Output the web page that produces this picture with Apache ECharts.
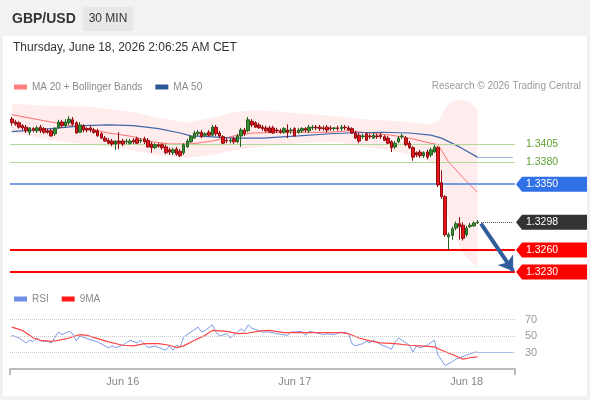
<!DOCTYPE html>
<html>
<head>
<meta charset="utf-8">
<script src="https://cdn.jsdelivr.net/npm/echarts@6/dist/echarts.min.js"></script>
<style>
html,body{margin:0;padding:0;background:#ffffff;}
#c{width:590px;height:400px;}
</style>
</head>
<body>
<div id="c"></div>
<script>
// ---------- data ----------
const nBars = 141; // 131 candles + empty room on the right
const tickIdx = [31, 79, 127];
const tickLabels = ['Jun 16', 'Jun 17', 'Jun 18'];

const opens = [1.3439,1.3435,1.3434,1.3430,1.3428,1.3421,1.3426,1.3423,1.3428,1.3426,
1.3423,1.3423,1.3419,1.3427,1.3435,1.3430,1.3434,1.3438,1.3434,1.3421,
1.3430,1.3426,1.3427,1.3424,1.3423,1.3419,1.3413,1.3410,1.3409,1.3405,
1.3409,1.3409,1.3408,1.3406,1.3410,1.3412,1.3409,1.3412,1.3410,1.3405,
1.3400,1.3404,1.3404,1.3401,1.3397,1.3393,1.3398,1.3395,1.3393,1.3401,
1.3408,1.3413,1.3419,1.3421,1.3417,1.3421,1.3417,1.3428,1.3420,1.3415,
1.3410,1.3409,1.3412,1.3408,1.3416,1.3424,1.3423,1.3436,1.3434,1.3431,
1.3428,1.3427,1.3427,1.3427,1.3424,1.3423,1.3421,1.3424,1.3423,1.3426,
1.3421,1.3423,1.3426,1.3423,1.3427,1.3428,1.3428,1.3427,1.3428,1.3427,
1.3426,1.3427,1.3426,1.3428,1.3427,1.3426,1.3420,1.3417,1.3415,1.3419,
1.3416,1.3413,1.3416,1.3417,1.3415,1.3413,1.3408,1.3401,1.3408,1.3415,
1.3413,1.3406,1.3400,1.3393,1.3394,1.3389,1.3394,1.3390,1.3394,1.3400,
1.3352,1.3333,1.3278,1.3280,1.3290,1.3296,1.3294,1.3281,1.3292,1.3293,
1.3297];
const closes = [1.3434,1.3432,1.3428,1.3427,1.3423,1.3427,1.3424,1.3427,1.3423,1.3421,
1.3421,1.3416,1.3426,1.3435,1.3430,1.3435,1.3439,1.3432,1.3420,1.3431,
1.3424,1.3424,1.3424,1.3421,1.3416,1.3413,1.3409,1.3406,1.3405,1.3409,
1.3406,1.3405,1.3409,1.3409,1.3408,1.3406,1.3410,1.3408,1.3401,1.3400,
1.3404,1.3402,1.3400,1.3393,1.3394,1.3397,1.3391,1.3389,1.3404,1.3409,
1.3415,1.3420,1.3421,1.3415,1.3419,1.3417,1.3428,1.3419,1.3416,1.3406,
1.3409,1.3410,1.3408,1.3416,1.3424,1.3419,1.3438,1.3431,1.3428,1.3427,
1.3426,1.3423,1.3421,1.3420,1.3423,1.3421,1.3426,1.3421,1.3424,1.3416,
1.3424,1.3426,1.3424,1.3428,1.3428,1.3427,1.3426,1.3426,1.3424,1.3426,
1.3427,1.3426,1.3428,1.3427,1.3424,1.3420,1.3413,1.3409,1.3416,1.3410,
1.3415,1.3417,1.3415,1.3415,1.3410,1.3406,1.3400,1.3406,1.3413,1.3416,
1.3404,1.3400,1.3387,1.3390,1.3389,1.3393,1.3387,1.3397,1.3401,1.3349,
1.3333,1.3281,1.3281,1.3289,1.3296,1.3292,1.3276,1.3290,1.3294,1.3297,
1.3298];
const lows = [1.3430,1.3430,1.3426,1.3424,1.3420,1.3417,1.3421,1.3420,1.3420,1.3419,
1.3419,1.3415,1.3416,1.3426,1.3427,1.3427,1.3431,1.3430,1.3419,1.3420,
1.3421,1.3421,1.3421,1.3419,1.3415,1.3412,1.3408,1.3405,1.3402,1.3397,
1.3398,1.3402,1.3405,1.3404,1.3405,1.3405,1.3406,1.3405,1.3400,1.3393,
1.3398,1.3400,1.3397,1.3391,1.3390,1.3390,1.3389,1.3387,1.3390,1.3400,
1.3406,1.3412,1.3416,1.3413,1.3415,1.3415,1.3416,1.3416,1.3413,1.3405,
1.3406,1.3406,1.3405,1.3406,1.3401,1.3416,1.3421,1.3428,1.3427,1.3426,
1.3423,1.3421,1.3420,1.3419,1.3420,1.3419,1.3419,1.3413,1.3419,1.3415,
1.3419,1.3420,1.3421,1.3420,1.3424,1.3424,1.3423,1.3423,1.3421,1.3423,
1.3423,1.3423,1.3423,1.3424,1.3423,1.3419,1.3412,1.3406,1.3412,1.3409,
1.3412,1.3412,1.3412,1.3412,1.3409,1.3405,1.3394,1.3398,1.3406,1.3412,
1.3402,1.3398,1.3382,1.3387,1.3386,1.3386,1.3384,1.3387,1.3393,1.3346,
1.3330,1.3278,1.3260,1.3274,1.3287,1.3274,1.3273,1.3278,1.3290,1.3292,
1.3296];
const highs = [1.3442,1.3438,1.3436,1.3432,1.3431,1.3428,1.3428,1.3430,1.3431,1.3428,
1.3426,1.3426,1.3428,1.3438,1.3438,1.3439,1.3443,1.3442,1.3436,1.3435,
1.3432,1.3428,1.3430,1.3427,1.3426,1.3421,1.3416,1.3413,1.3412,1.3410,
1.3421,1.3412,1.3412,1.3412,1.3413,1.3415,1.3413,1.3415,1.3413,1.3408,
1.3406,1.3406,1.3406,1.3404,1.3400,1.3400,1.3401,1.3398,1.3406,1.3412,
1.3417,1.3423,1.3424,1.3424,1.3421,1.3424,1.3431,1.3431,1.3423,1.3417,
1.3413,1.3413,1.3415,1.3419,1.3427,1.3427,1.3442,1.3439,1.3436,1.3434,
1.3431,1.3430,1.3430,1.3430,1.3427,1.3426,1.3428,1.3432,1.3427,1.3428,
1.3427,1.3428,1.3428,1.3431,1.3431,1.3431,1.3431,1.3430,1.3431,1.3430,
1.3428,1.3430,1.3431,1.3431,1.3430,1.3428,1.3423,1.3420,1.3419,1.3421,
1.3419,1.3420,1.3419,1.3420,1.3417,1.3416,1.3410,1.3409,1.3416,1.3419,
1.3416,1.3409,1.3402,1.3395,1.3397,1.3395,1.3397,1.3400,1.3404,1.3402,
1.3369,1.3335,1.3284,1.3292,1.3299,1.3305,1.3298,1.3293,1.3297,1.3299,
1.3301];

const ma20Idx = [0,11,20,27,34,39,44,50,56,62,67,75,89,94,100,106,111,117,119,122,126,130];
const ma20Val = [1.3445,1.3435,1.3427,1.3420,1.3415,1.3408,1.3405,1.3405,1.3409,1.3416,1.3420,1.3421,1.3421,1.3423,1.3420,1.3417,1.3413,1.3406,1.3404,1.3380,1.3359,1.3339];

const ma50Idx = [0,11,20,27,34,41,47,50,55,62,70,80,89,94,103,111,117,120,125,130];
const ma50Val = [1.3422,1.3426,1.3430,1.3431,1.3430,1.3426,1.3420,1.3416,1.3415,1.3413,1.3413,1.3416,1.3419,1.3420,1.3421,1.3420,1.3417,1.3413,1.3401,1.3387];

const bbIdx = [0,11,22,33,41,49,56,63,69,80,91,97,108,116,119,121,123,126,128,130];
const bbUpper = [1.3460,1.3457,1.3456,1.3449,1.3441,1.3434,1.3441,1.3449,1.3451,1.3447,1.3443,1.3439,1.3436,1.3432,1.3435,1.3454,1.3464,1.3465,1.3462,1.3451];
const bbLower = [1.3421,1.3410,1.3404,1.3397,1.3389,1.3386,1.3390,1.3397,1.3401,1.3406,1.3408,1.3402,1.3394,1.3383,1.3372,1.3322,1.3285,1.3257,1.3245,1.3236];

const rsiIdx = [0,2,4,5,6,7,8,10,11,13,14,16,17,18,19,21,24,27,28,29,31,33,35,36,38,40,41,43,44,45,46,47,48,50,52,53,54,56,57,58,60,61,62,64,65,66,67,70,72,74,77,78,81,82,83,85,87,88,90,92,94,95,96,98,99,100,101,103,104,106,107,108,109,111,112,113,114,116,118,119,120,121,123,124,125,127,129,130];
const rsiVal = [50.8,47.6,41.6,44.8,43.6,47.6,44,43.6,41.6,54.8,51.6,55.6,52.8,44,50,46.8,42.8,35.6,38,36,38.8,44.8,41.6,44.8,36,38,36,32.8,38,32.8,38.8,36.8,48.8,54.8,60.8,54.8,56.8,63.6,54.8,50,52.8,47.6,50.8,58.8,55.6,63.6,59.6,54.8,54.8,52.8,50.8,54.8,55.6,50.8,55.6,54,51.6,52.8,51.6,54.8,52.8,40.8,38,40.8,43.6,42,44.8,39.6,38,34,42.8,47.6,44.8,38.8,30.8,38,35.6,38.8,44.8,26.8,20.8,14,18.8,22,23.6,26.8,30,30.8];

const rsiMaIdx = [0,3,5,6,8,11,13,16,19,21,24,27,31,34,37,41,44,46,48,51,54,56,60,63,66,69,72,76,81,86,92,94,97,100,103,107,111,114,118,120,123,126,128,130];
const rsiMaVal = [60.8,56.8,50.8,47.6,44.8,43.6,44.8,47.6,51.6,50.8,46.8,42.8,38.8,38,40.8,40.8,38.8,36,38,44.8,50.8,56.8,55.6,52.8,53.6,56,56.8,54,54,54,54,52.8,47.6,44,41.6,40.8,38.8,38,36.8,32.8,27.6,22,23.6,24.8];

const levelsGreen = [1.3405, 1.3380];
const levelBlue = 1.3350;
const levelsRed = [1.3260, 1.3230];
const lastPrice = 1.3298;
const arrowTarget = 1.3231;
const rsiLevels = [70, 50, 30];
const rsiLast = 30.8;

// ---------- build ----------
const FONT = '"Liberation Sans", Arial, sans-serif';
const cats = [];
for (let i = 0; i < nBars; i++) cats.push(String(i));
const candleData = opens.map((o, i) => [o, closes[i], lows[i], highs[i]]);
const pairs = (idx, val) => idx.map((x, k) => [x, val[k]]);
const lastIdx = opens.length - 1;
const endIdx = nBars - 1;
const hLine = (v, color, width, type) => ({yAxis: v, lineStyle: {color: color, width: width, type: type}});

const chart = echarts.init(document.getElementById('c'), null, {renderer: 'canvas'});

const option = {
  animation: false,
  textStyle: {fontFamily: FONT},
  legend: [
    {data: ['MA 20 + Bollinger Bands', 'MA 50'], left: 14, top: 82, padding: 0,
     itemWidth: 13, itemHeight: 5, itemGap: 13, icon: 'rect', selectedMode: false,
     textStyle: {fontSize: 10, color: '#8a8a8a', fontFamily: FONT}},
    {data: ['RSI', '9MA'], left: 14, top: 294, padding: 0,
     itemWidth: 13, itemHeight: 5, itemGap: 13, icon: 'rect', selectedMode: false,
     textStyle: {fontSize: 10, color: '#8a8a8a', fontFamily: FONT}}
  ],
  grid: [
    {left: 10, width: 505, top: 96, height: 184},
    {left: 10, width: 505, top: 303, height: 66}
  ],
  xAxis: [
    {type: 'category', gridIndex: 0, data: cats, boundaryGap: true, show: false},
    {type: 'category', gridIndex: 1, data: cats, boundaryGap: true,
     axisLine: {show: true, lineStyle: {color: '#bbbbbb', width: 2}},
     axisTick: {show: true, interval: (i) => i === 0, length: 6, lineStyle: {color: '#bbbbbb', width: 2}},
     axisLabel: {interval: (i) => tickIdx.indexOf(i) >= 0,
                 formatter: (v, i) => { const k = tickIdx.indexOf(i); return k >= 0 ? tickLabels[k] : ''; },
                 color: '#888888', fontSize: 11, margin: 7, fontFamily: FONT},
     splitLine: {show: false}}
  ],
  yAxis: [
    {type: 'value', gridIndex: 0, min: 1.3219, max: 1.34706, show: false, scale: true, splitLine: {show: false}},
    {type: 'value', gridIndex: 1, min: 10, max: 90, interval: 10, position: 'right',
     axisLine: {show: false}, axisTick: {show: false}, splitLine: {show: false},
     axisLabel: {margin: 10, color: '#999999', fontSize: 11, fontFamily: FONT,
                 formatter: (v) => rsiLevels.indexOf(v) >= 0 ? String(v) : ''}}
  ],
  series: [
    {name: 'BB lower', type: 'line', xAxisIndex: 0, yAxisIndex: 0, stack: 'bb', symbol: 'none',
     data: pairs(bbIdx, bbLower), lineStyle: {opacity: 0}, silent: true, z: 1},
    {name: 'BB band', type: 'line', xAxisIndex: 0, yAxisIndex: 0, stack: 'bb', symbol: 'none',
     data: bbIdx.map((x, k) => [x, bbUpper[k] - bbLower[k]]), lineStyle: {opacity: 0},
     areaStyle: {color: 'rgba(255,140,140,0.24)'}, silent: true, z: 1},
    {name: 'Levels', type: 'line', xAxisIndex: 0, yAxisIndex: 0, symbol: 'none', z: 2, silent: true,
     data: pairs([lastIdx], [lastPrice]), lineStyle: {opacity: 0},
     markLine: {
       silent: true, symbol: 'none', label: {show: false}, animation: false, precision: 6,
       data: [
         hLine(levelsGreen[0], '#b3d89c', 1, 'solid'),
         hLine(levelsGreen[1], '#b3d89c', 1, 'solid'),
         hLine(levelBlue, '#4a7fe3', 1.5, 'solid'),
         hLine(levelsRed[0], '#ff0000', 2, 'solid'),
         hLine(levelsRed[1], '#ff0000', 2, 'solid')
       ]
     }},
    {name: 'GBP/USD', type: 'candlestick', xAxisIndex: 0, yAxisIndex: 0, barWidth: 3, z: 5,
     data: candleData,
     itemStyle: {color: '#3b8f33', color0: '#e5171d', borderColor: '#24601f', borderColor0: '#8f0d10', borderWidth: 1},
     markLine: {
       silent: true, symbol: 'none', label: {show: false}, animation: false, precision: 6,
       data: [
         [{coord: [lastIdx + 1, lastPrice], lineStyle: {color: '#555555', width: 1, type: 'dotted'}},
          {coord: [endIdx, lastPrice]}],
         [{coord: [lastIdx + 1, closes[lastIdx] - 0.0002], symbol: 'none', lineStyle: {color: '#2f5d9b', width: 4, type: 'solid'}},
          {coord: [endIdx, arrowTarget], symbol: 'arrow', symbolSize: 14}]
       ]
     }},
    {name: 'MA 20 + Bollinger Bands', type: 'line', xAxisIndex: 0, yAxisIndex: 0, symbol: 'none', z: 3,
     data: pairs(ma20Idx, ma20Val), color: '#ff7f7f', itemStyle: {color: '#ff7f7f'},
     lineStyle: {color: '#ff6f6f', width: 1}},
    {name: 'MA 50', type: 'line', xAxisIndex: 0, yAxisIndex: 0, symbol: 'none', z: 3,
     data: pairs(ma50Idx, ma50Val), color: '#2e5797', itemStyle: {color: '#2e5797'},
     lineStyle: {color: '#3f67aa', width: 1.2},
     markLine: {silent: true, symbol: 'none', label: {show: false}, precision: 6,
       data: [[{coord: [lastIdx, ma50Val[ma50Val.length - 1]], lineStyle: {color: '#3f67aa', width: 1, type: 'dotted'}},
               {coord: [endIdx, ma50Val[ma50Val.length - 1]]}]]}},
    {name: 'RSI', type: 'line', xAxisIndex: 1, yAxisIndex: 1, symbol: 'none', z: 3,
     data: pairs(rsiIdx, rsiVal), color: '#6f8fe6', itemStyle: {color: '#6f8fe6'},
     lineStyle: {color: '#7c9be8', width: 1},
     markLine: {silent: true, symbol: 'none', label: {show: false}, precision: 4,
       data: [
         hLine(rsiLevels[0], '#c8c8c8', 1, 'dotted'),
         hLine(rsiLevels[1], '#c8c8c8', 1, 'dotted'),
         hLine(rsiLevels[2], '#c8c8c8', 1, 'dotted'),
         [{coord: [lastIdx, rsiLast], lineStyle: {color: '#7c9be8', width: 1, type: 'dotted'}},
          {coord: [endIdx, rsiLast]}]
       ]}},
    {name: '9MA', type: 'line', xAxisIndex: 1, yAxisIndex: 1, symbol: 'none', z: 4,
     data: pairs(rsiMaIdx, rsiMaVal), color: '#ff1a1a', itemStyle: {color: '#ff1a1a'},
     lineStyle: {color: '#ff4545', width: 1.2}}
  ]
};
chart.setOption(option);

// ---------- frame, header and right-side price tags ----------
const base = [
  {type: 'rect', shape: {x: 0, y: 0, width: 590, height: 400}, style: {fill: '#f1f2f3'}, z: -20, silent: true},
  {type: 'rect', shape: {x: 3, y: 36, width: 584, height: 360}, style: {fill: '#ffffff'}, z: -19, silent: true},
  {type: 'rect', shape: {x: 83, y: 7, width: 50, height: 24, r: 2}, style: {fill: '#e6e7e8'}, z: -18, silent: true},
  {type: 'text', x: 12, y: 19, style: {text: 'GBP/USD', fill: '#333333', font: 'bold 14px ' + FONT, verticalAlign: 'middle', align: 'left'}, silent: true},
  {type: 'text', x: 108, y: 19, style: {text: '30 MIN', fill: '#333333', font: '12px ' + FONT, verticalAlign: 'middle', align: 'center'}, silent: true},
  {type: 'text', x: 13, y: 48, style: {text: 'Thursday, June 18, 2026 2:06:25 AM CET', fill: '#333333', font: '12px ' + FONT, verticalAlign: 'middle', align: 'left'}, silent: true},
  {type: 'text', x: 581, y: 86, style: {text: 'Research \u00a9 2026 Trading Central', fill: '#9a9a9a', font: '10px ' + FONT, verticalAlign: 'middle', align: 'right'}, silent: true}
];
const tags = [];
levelsGreen.forEach(v => {
  const y = chart.convertToPixel({yAxisIndex: 0}, v);
  tags.push({type: 'text', x: 526, y: y, z: 20, silent: true,
    style: {text: v.toFixed(4), fill: '#5ea12f', font: '10.5px ' + FONT, verticalAlign: 'middle', align: 'left'}});
});
[{v: levelBlue, fill: '#3170e6'}, {v: lastPrice, fill: '#333333'},
 {v: levelsRed[0], fill: '#ff0000'}, {v: levelsRed[1], fill: '#ff0000'}].forEach(b => {
  const y = chart.convertToPixel({yAxisIndex: 0}, b.v);
  tags.push({type: 'polygon', z: 20, silent: true,
    shape: {points: [[516, y], [522, y - 7.5], [587, y - 7.5], [587, y + 7.5], [522, y + 7.5]]},
    style: {fill: b.fill}});
  tags.push({type: 'text', x: 526, y: y, z: 21, silent: true,
    style: {text: b.v.toFixed(4), fill: '#ffffff', font: '10.5px ' + FONT, verticalAlign: 'middle', align: 'left'}});
});
chart.setOption({graphic: base.concat(tags)});
</script>
</body>
</html>
